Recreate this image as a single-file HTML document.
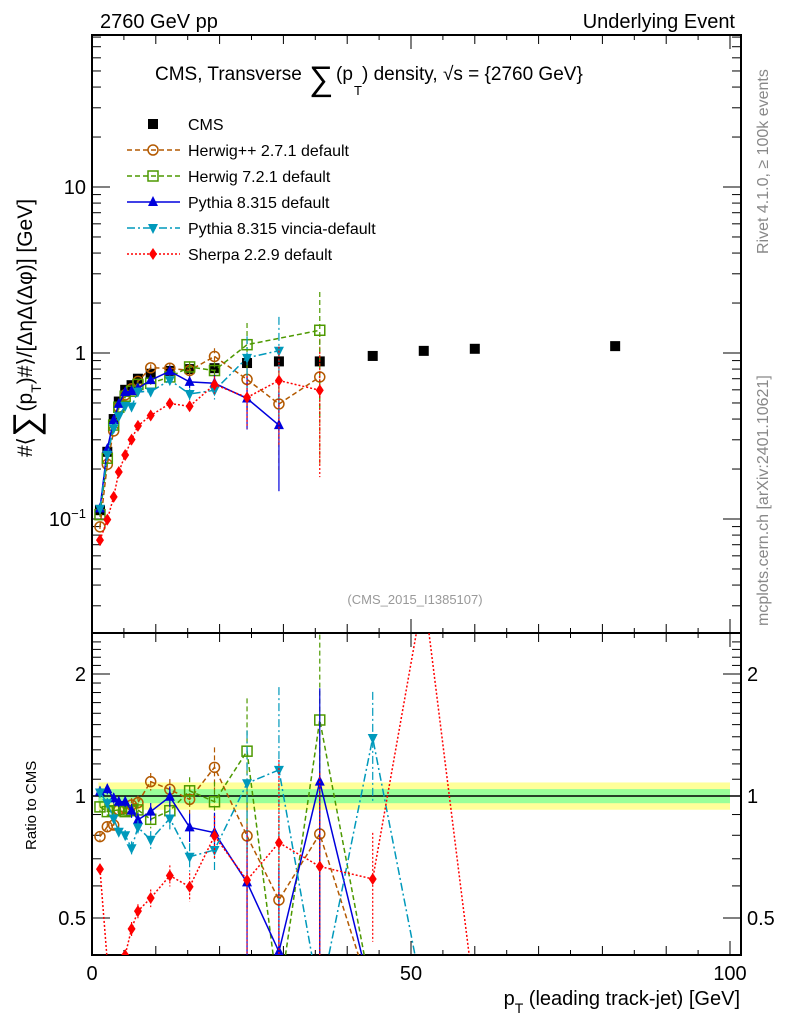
<!DOCTYPE html>
<html><head><meta charset="utf-8"><style>
body{margin:0;background:#fff;overflow:hidden;}
svg text{font-family:"Liberation Sans",sans-serif;}
</style></head><body>
<svg id="c" width="786" height="1024" viewBox="0 0 786 1024" xmlns="http://www.w3.org/2000/svg">
<defs>
<clipPath id="ctop"><rect x="92" y="35" width="649" height="598"/></clipPath>
<clipPath id="cbot"><rect x="92" y="633" width="649" height="322"/></clipPath>
</defs>
<text x="100" y="28" font-size="20">2760 GeV pp</text>
<text x="735" y="28" font-size="20" text-anchor="end">Underlying Event</text>
<g id="title">
<text x="155" y="80" font-size="19">CMS, Transverse</text>
<text x="309" y="90" font-size="34">∑</text>
<text x="336" y="80" font-size="19">(p</text>
<text x="354" y="95" font-size="13">T</text>
<text x="362" y="80" font-size="19">) density, √s = {2760 GeV}</text>
</g>
<text x="415" y="604" font-size="13" fill="#999" text-anchor="middle">(CMS_2015_I1385107)</text>
<text transform="translate(768,626) rotate(-90)" font-size="16" fill="#888">mcplots.cern.ch [arXiv:2401.10621]</text>
<text transform="translate(768,254) rotate(-90)" font-size="16" fill="#888">Rivet 4.1.0, ≥ 100k events</text>
<text transform="translate(32,457) rotate(-90)" font-size="21">#⟨<tspan font-size="36" dy="6">∑</tspan><tspan dy="-6">(p</tspan><tspan font-size="14" dy="9">T</tspan><tspan dy="-9">)#⟩/[ΔηΔ(Δφ)] [GeV]</tspan></text>
<text transform="translate(36,850) rotate(-90)" font-size="15">Ratio to CMS</text>
<text x="740" y="1005" font-size="20" text-anchor="end">p<tspan font-size="14" dy="8">T</tspan><tspan dy="-8"> (leading track-jet) [GeV]</tspan></text>
<g id="bands"></g>
<g id="axes"></g>
<g id="series"></g>
<g id="legend"></g>
</svg>
<script>
const xVals=[1.25,2.4,3.4,4.2,5.2,6.2,7.2,9.2,12.2,15.3,19.2,24.3,29.3,35.7,44,52,60,82];
const cmsVals=[0.113,0.254,0.40,0.51,0.60,0.64,0.70,0.75,0.78,0.80,0.81,0.87,0.89,0.89,0.96,1.03,1.06,1.10];
const herwigppRatio=[0.794,0.84,0.848,0.924,0.932,0.95,0.963,1.085,1.038,0.981,1.177,0.797,0.554,0.806,0];
const herwig7Ratio=[0.94,0.915,0.92,0.924,0.915,0.92,0.924,0.876,0.92,1.03,0.968,1.29,0,1.54,0];
const pythiaRatio=[1.025,1.04,0.987,0.968,0.968,0.92,0.873,0.915,0.996,0.837,0.812,0.612,0.413,1.085,0];
const vinciaRatio=[1.02,0.96,0.88,0.816,0.80,0.743,0.837,0.78,0.88,0.708,0.736,1.075,1.16,0,1.39,0];
const sherpaRatio=[0.66,0.39,0.34,0.376,0.405,0.47,0.52,0.56,0.636,0.597,0.797,0.62,0.767,0.67,0.624,3.2,0];
const relErr=[0.03,0.03,0.03,0.03,0.03,0.04,0.04,0.05,0.06,0.08,0.12,0.35,0.6,0.7,0.3];
const xTicks=[0,50,100];
const yTopTicks=[0.1,1,10];
const yTopLabels=["10","1","10"];
const ratioTicks=[0.5,1,2];
const ratioLabels=["0.5","1","2"];

const NS="http://www.w3.org/2000/svg";
const L=92,R=741,T=35,M=633,B=955;
const X=v=>92+v*6.38;
const Y=v=>353-166*Math.log10(v);
const RY=r=>Math.min(1000,796-122*Math.log2(r));
function mk(tag,attrs,parent){const e=document.createElementNS(NS,tag);for(const k in attrs)e.setAttribute(k,attrs[k]);parent.appendChild(e);return e;}
const axes=document.getElementById('axes'),ser=document.getElementById('series'),bands=document.getElementById('bands'),leg=document.getElementById('legend');

let yb=mk('rect',{x:X(1),y:RY(1.08),width:X(100)-X(1),height:RY(0.925)-RY(1.08),fill:'#ffff99'},bands);


let gb=mk('rect',{x:X(1),y:RY(1.04),width:X(100)-X(1),height:RY(0.96)-RY(1.04),fill:'#99ff99'},bands);


let ul=mk('line',{x1:L,x2:R,y1:RY(1),y2:RY(1),stroke:'#000','stroke-width':1.5},bands);



let f1=mk('rect',{x:L,y:T,width:R-L,height:M-T,fill:'none',stroke:'#000','stroke-width':2},axes);


let f2=mk('rect',{x:L,y:M,width:R-L,height:B-M,fill:'none',stroke:'#000','stroke-width':2},axes);



for(let v=0;v<=100;v+=5){const big=v%50==0,mid=v%10==0;const len=big?14:(mid?9:5);
 [[M,-1],[B,-1],[T,1],[M,1]].forEach(([y0,d])=>{mk('line',{x1:X(v),x2:X(v),y1:y0,y2:y0+d*len,stroke:'#000','stroke-width':1},axes);});}
xTicks.forEach(v=>{const t=mk('text',{x:X(v),y:980,'font-size':20,'text-anchor':'middle'},axes);t.textContent=v;
 
 });
for(let d=-2;d<=1;d++){for(let m=1;m<10;m++){const v=m*Math.pow(10,d);const y=Y(v);if(y<T||y>M)continue;const len=m==1?18:9;
 mk('line',{x1:L,x2:L+len,y1:y,y2:y,stroke:'#000'},axes);mk('line',{x1:R,x2:R-len,y1:y,y2:y,stroke:'#000'},axes);}}
yTopTicks.forEach((v,i)=>{const t=mk('text',{x:L-6,y:Y(v)+7,'font-size':20,'text-anchor':'end'},axes);t.textContent=yTopLabels[i];
 if(v==0.1){const s=mk('tspan',{'font-size':13,dy:-8},t);s.textContent='−1';}
 
 });
for(let r=0.4;r<=2.5;r+=0.1){const y=RY(r);if(y<M||y>B)continue;const maj=[0.5,1,2].some(q=>Math.abs(q-r)<1e-6);const len=maj?18:9;
 mk('line',{x1:L,x2:L+len,y1:y,y2:y,stroke:'#000'},axes);mk('line',{x1:R,x2:R-len,y1:y,y2:y,stroke:'#000'},axes);}
ratioTicks.forEach((v,i)=>{[[L-6,'end'],[R+6,'start']].forEach(([x,a])=>{const t=mk('text',{x:x,y:RY(v)+7,'font-size':20,'text-anchor':a},axes);t.textContent=ratioLabels[i];
 
 });});

function marker(g,kind,x,y,color,size){
 const s=size||5;
 if(kind=='sq')return mk('rect',{x:x-s,y:y-s,width:2*s,height:2*s,fill:color},g);
 if(kind=='osq')return mk('rect',{x:x-s,y:y-s,width:2*s,height:2*s,fill:'none',stroke:color,'stroke-width':1.5},g);
 if(kind=='oc')return mk('circle',{cx:x,cy:y,r:s,fill:'none',stroke:color,'stroke-width':1.5},g);
 if(kind=='tu')return mk('polygon',{points:`${x},${y-s-1} ${x-s},${y+s-1} ${x+s},${y+s-1}`,fill:color},g);
 if(kind=='td')return mk('polygon',{points:`${x},${y+s+1} ${x-s},${y-s+1} ${x+s},${y-s+1}`,fill:color},g);
 if(kind=='di')return mk('polygon',{points:`${x},${y-s-1} ${x-s+1},${y} ${x},${y+s+1} ${x+s-1},${y}`,fill:color},g);
}
const series=[
 {name:'herwigpp',label:'Herwig++ 2.7.1 default',r:herwigppRatio,c:'#b35900',m:'oc',dash:'5,3',topN:14},
 {name:'herwig7',label:'Herwig 7.2.1 default',r:herwig7Ratio,c:'#4d9900',m:'osq',dash:'5,3',topN:14},
 {name:'pythia',label:'Pythia 8.315 default',r:pythiaRatio,c:'#0000dd',m:'tu',dash:'',topN:13},
 {name:'vincia',label:'Pythia 8.315 vincia-default',r:vinciaRatio,c:'#0099bb',m:'td',dash:'8,3,2,3',topN:14},
 {name:'sherpa',label:'Sherpa 2.2.9 default',r:sherpaRatio,c:'#ff0000',m:'di',dash:'2,2',topN:14}
];
const cg=mk('g',{'clip-path':'url(#ctop)'},ser);


cmsVals.forEach((v,i)=>{const p=marker(cg,'sq',X(xVals[i]),Y(v),'#000',5);
 
 });
series.forEach(s=>{
 const gt=mk('g',{'clip-path':'url(#ctop)'},ser);
 
 
 const gr=mk('g',{'clip-path':'url(#cbot)'},ser);
 
 
 const pts=[];
 for(let i=0;i<Math.min(s.topN,s.r.length);i++){if(s.r[i]<=0)continue;pts.push([X(xVals[i]),Y(s.r[i]*cmsVals[i]),i]);}
 mk('polyline',{points:pts.map(p=>p[0]+','+p[1]).join(' '),fill:'none',stroke:s.c,'stroke-width':1.5,'stroke-dasharray':s.dash},gt);
 pts.forEach(p=>{const v=s.r[p[2]]*cmsVals[p[2]],e=relErr[p[2]]||0.1;
  mk('line',{x1:p[0],x2:p[0],y1:Y(v*(1+e)),y2:Y(Math.max(v*(1-e),0.01)),stroke:s.c,'stroke-width':1.2,'stroke-dasharray':s.dash},gt);
  const mm=marker(gt,s.m,p[0],p[1],s.c,5);
  
  });
 const rp=s.r.map((r,i)=>[X(xVals[i]),r>0?RY(r):1000,r,i]);
 mk('polyline',{points:rp.map(p=>p[0]+','+p[1]).join(' '),fill:'none',stroke:s.c,'stroke-width':1.5,'stroke-dasharray':s.dash},gr);
 rp.forEach(p=>{if(p[2]<=0)return;const e=relErr[p[3]]||0.1;
  mk('line',{x1:p[0],x2:p[0],y1:RY(p[2]*(1+e)),y2:RY(Math.max(p[2]*(1-e),0.05)),stroke:s.c,'stroke-width':1.2,'stroke-dasharray':s.dash},gr);
  const mm=marker(gr,s.m,p[0],p[1],s.c,5);
  
  });
});
const lg=[{label:'CMS',c:'#000',m:'sq',dash:null}].concat(series);
lg.forEach((s,i)=>{const y=124+i*26;const g=mk('g',{},leg);
 
 
 if(s.dash!==null)mk('line',{x1:127,x2:180,y1:y,y2:y,stroke:s.c,'stroke-width':1.5,'stroke-dasharray':s.dash},g);
 marker(g,s.m,153,y,s.c,5);
 const t=mk('text',{x:188,y:y+6,'font-size':16},g);t.textContent=s.label;});
</script>
</body></html>
